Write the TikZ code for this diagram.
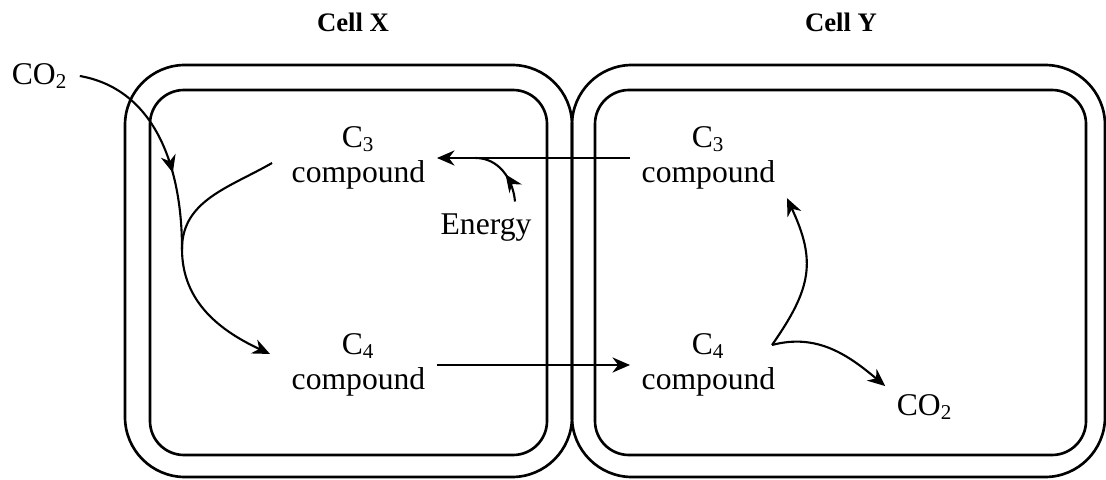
\documentclass[tikz,border=0pt]{standalone}
\usepackage{fontspec}
\setmainfont{Liberation Serif}
\usetikzlibrary{arrows.meta,positioning,calc,decorations.markings}

\tikzset{
  wall/.style={line width=0.75pt, rounded corners=#1},
  txt/.style={font=\fontsize{9pt}{10pt}\selectfont, align=center, inner xsep=1.1mm, inner ysep=0.8mm},
  title/.style={font=\fontsize{7.6pt}{9pt}\selectfont\bfseries},
  flow/.style={line width=0.6pt, -{Stealth[length=5pt,width=4.3pt]}},
  midflow/.style={line width=0.6pt,
    decoration={markings, mark=at position #1 with {\arrow{Stealth[length=5pt,width=4.3pt]}}},
    postaction={decorate}},
}

\begin{document}
\begin{tikzpicture}
  \useasboundingbox (0,0) rectangle (11.06,4.79);
  % Cell walls
  \draw[wall=0.6cm] (1.25,0.02) rectangle (5.72,4.14);
  \draw[wall=0.34cm] (1.50,0.24) rectangle (5.47,3.89);
  \draw[wall=0.6cm] (5.72,0.02) rectangle (11.05,4.14);
  \draw[wall=0.34cm] (5.95,0.24) rectangle (10.86,3.89);
  % Titles
  \node[title] (cellx) at (3.53,4.57) {Cell X};
  \node[title] (celly) at (8.41,4.57) {Cell Y};
  % Compounds
  \node[txt] (c3x) at (3.585,3.21) {C\textsubscript{3}\\compound};
  \node[txt] (c3y) at (7.085,3.21) {C\textsubscript{3}\\compound};
  \node[txt] (c4x) at (3.585,1.14) {C\textsubscript{4}\\compound};
  \node[txt] (c4y) at (7.085,1.14) {C\textsubscript{4}\\compound};
  \node[txt] (energy) at (4.86,2.51) {Energy};
  \node[txt] (co2in) at (0.40,4.03) {CO\textsubscript{2}};
  \node[txt] (co2out) at (9.25,0.72) {CO\textsubscript{2}};
  % Junctions
  \coordinate (merge) at (1.82,2.30);
  \coordinate (join) at ($(c3x.east)!0.2!(c3y.west)$);
  \coordinate (fork) at (7.72,1.34);
  % Transport between the cells
  \draw[flow] (c4x.east) -- (c4y.west);
  \draw[flow] (c3y.west) -- (c3x.east);
  \draw[midflow=0.45] ([xshift=2.9mm,yshift=0.4mm]energy.north) to[out=95,in=0] (join);
  % Fixation in cell X
  \draw[flow, midflow=0.39] (co2in.east) to[out=-10,in=90] (merge)
    to[out=-90,in=155] ([xshift=-1mm]c4x.172);
  \draw[line width=0.6pt] ([xshift=-0.8mm,yshift=-0.5mm]c3x.west) to[out=210,in=90] (merge);
  % Release in cell Y
  \draw[flow] (fork) to[out=55,in=-65,looseness=1.2] (c3y.south east);
  \draw[flow] (fork) to[out=15,in=140] (co2out.north west);
\end{tikzpicture}
\end{document}
